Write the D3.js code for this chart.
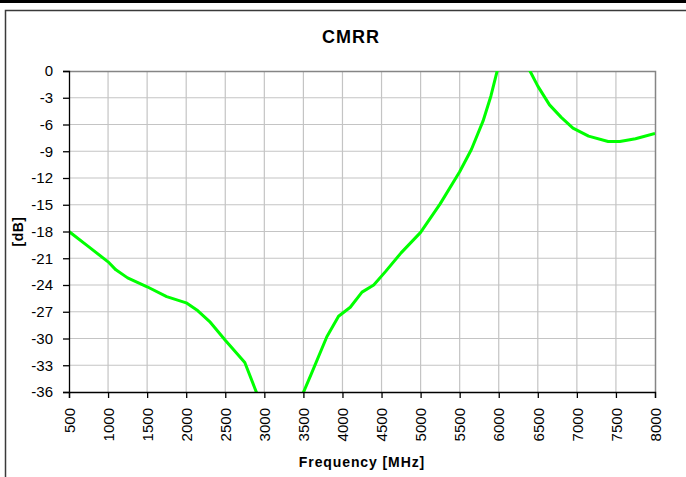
<!DOCTYPE html>
<html>
<head>
<meta charset="utf-8">
<script src="https://cdn.jsdelivr.net/npm/d3@7"></script>
<style>
  html, body { margin: 0; padding: 0; background: #fff; }
  svg { display: block; font-family: "Liberation Sans", Arial, sans-serif; }
</style>
</head>
<body>
<svg id="chart" width="686" height="477"></svg>
<script>
// CMRR measurement, frequency in MHz, rejection in dB
const freqMHz = [500, 750, 1000, 1100, 1250, 1500, 1750, 2000, 2150, 2300, 2500, 2750,
  3000, 3250, 3400, 3600, 3800, 3950, 4100, 4250, 4400, 4550, 4750, 5000, 5250, 5500,
  5650, 5800, 5900, 6000, 6200, 6400, 6500, 6650, 6800, 6950, 7150, 7400, 7550, 7750, 8000];
const cmrrDb = [-18.0, -19.7, -21.4, -22.3, -23.2, -24.2, -25.3, -26.0, -26.9, -28.1, -30.2, -32.7,
  -38.3, -42.0, -38.1, -34.0, -29.8, -27.5, -26.5, -24.8, -24.0, -22.5, -20.4, -18.1, -14.9, -11.3,
  -8.8, -5.6, -2.8, 0.7, 2.5, 0.0, -1.7, -3.8, -5.2, -6.4, -7.3, -7.9, -7.9, -7.6, -7.0];

const xTicks = d3.range(500, 8001, 500);
const yTicks = d3.range(-36, 1, 3);

const titleText = "CMRR";
const xTitle = "Frequency [MHz]";
const yTitle = "[dB]";

const svg = d3.select("#chart");
const plot = { left: 69, right: 655, top: 71, bottom: 392 };

const x = d3.scaleLinear().domain([500, 8000]).range([plot.left, plot.right]);
const y = d3.scaleLinear().domain([-36, 0]).range([plot.bottom, plot.top]);

// page rule and chart frame
svg.append("rect").attr("x", 0).attr("y", 0).attr("width", 686).attr("height", 3).attr("fill", "#000");
svg.append("rect").attr("x", 5.5).attr("y", 10.5).attr("width", 720).attr("height", 520)
  .attr("fill", "none").attr("stroke", "#3a3a3a").attr("stroke-width", 1.5);

// title
svg.append("text").attr("x", 351).attr("y", 43).attr("text-anchor", "middle")
  .attr("font-size", 18).attr("font-weight", "bold").attr("letter-spacing", 1)
  .text(titleText);

// grid
const grid = svg.append("g").attr("stroke", "#c4c4c4").attr("stroke-width", 1.2);
grid.selectAll("line.v").data(xTicks.slice(1, -1)).join("line")
  .attr("x1", d => x(d)).attr("x2", d => x(d)).attr("y1", plot.top).attr("y2", plot.bottom);
grid.selectAll("line.h").data(yTicks.slice(1, -1)).join("line")
  .attr("x1", plot.left).attr("x2", plot.right).attr("y1", d => y(d)).attr("y2", d => y(d));

// plot border (top and right)
svg.append("path")
  .attr("d", `M${plot.left},${plot.top + 0.5}H${plot.right + 0.5}V${plot.bottom}`)
  .attr("fill", "none").attr("stroke", "#858585").attr("stroke-width", 1.5);

// data line, clipped to the plot area
svg.append("clipPath").attr("id", "plotClip").append("rect")
  .attr("x", plot.left).attr("y", plot.top)
  .attr("width", plot.right - plot.left).attr("height", plot.bottom - plot.top);

const line = d3.line().x((d, i) => x(freqMHz[i])).y(d => y(d));
svg.append("path").datum(cmrrDb)
  .attr("clip-path", "url(#plotClip)")
  .attr("d", line)
  .attr("fill", "none").attr("stroke", "#00ff00").attr("stroke-width", 3)
  .attr("stroke-linejoin", "round");

// axes
const yAxis = d3.axisLeft(y).tickValues(yTicks).tickSize(6).tickPadding(10).tickFormat(d3.format("d"));
const gy = svg.append("g").attr("transform", `translate(${plot.left},0)`).call(yAxis);
gy.select(".domain").attr("stroke", "#000").attr("stroke-width", 1.3);
gy.selectAll(".tick line").attr("stroke", "#000").attr("stroke-width", 1.3);
gy.selectAll(".tick text").attr("font-size", 15).attr("font-family", "Liberation Sans, Arial, sans-serif")
  .attr("fill", "#000").text(d => d === 0 ? "0" : "-" + Math.abs(d));

const xAxis = d3.axisBottom(x).tickValues(xTicks).tickSize(6).tickFormat(d3.format("d"));
const gx = svg.append("g").attr("transform", `translate(0,${plot.bottom})`).call(xAxis);
gx.select(".domain").attr("stroke", "#000").attr("stroke-width", 1.3);
gx.selectAll(".tick line").attr("stroke", "#000").attr("stroke-width", 1.3);
gx.selectAll(".tick text")
  .attr("font-size", 15).attr("font-family", "Liberation Sans, Arial, sans-serif").attr("fill", "#000")
  .attr("transform", "rotate(-90)")
  .attr("text-anchor", "end")
  .attr("x", -16).attr("y", 0).attr("dy", "0.35em");

// axis titles
svg.append("text").attr("x", (plot.left + plot.right) / 2).attr("y", 467)
  .attr("text-anchor", "middle").attr("font-size", 14).attr("font-weight", "bold")
  .attr("letter-spacing", 0.9).text(xTitle);

svg.append("text")
  .attr("transform", `translate(23,${(plot.top + plot.bottom) / 2}) rotate(-90)`)
  .attr("text-anchor", "middle").attr("font-size", 14).attr("font-weight", "bold")
  .attr("letter-spacing", 0.5).text(yTitle);
</script>
</body>
</html>
